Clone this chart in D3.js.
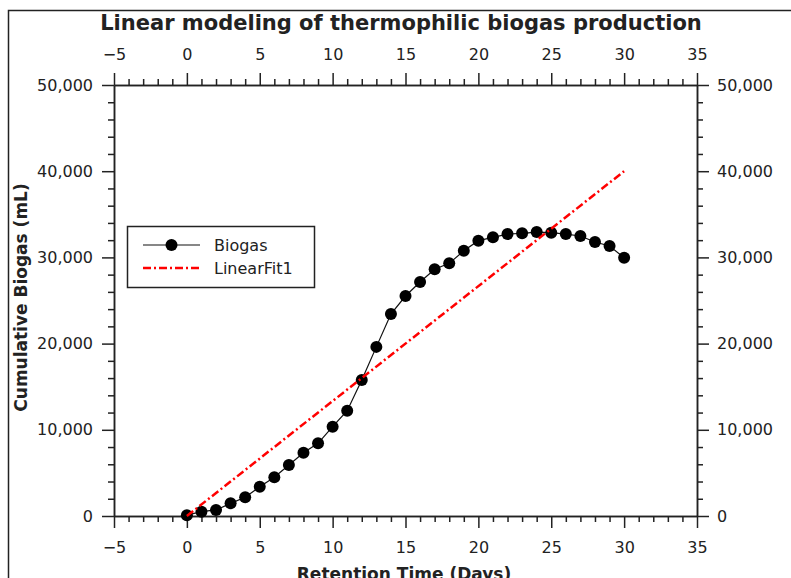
<!DOCTYPE html>
<html>
<head>
<meta charset="utf-8">
<script src="https://cdn.jsdelivr.net/npm/d3@7"></script>
<style>
  body { margin: 0; background: #fff; }
  text { font-family: "DejaVu Sans", sans-serif; fill: #222; }
</style>
</head>
<body>
<div id="chart"></div>
<script>
// data
const days = [0, 1, 2, 3, 4, 5, 6, 7, 8, 9, 10, 11, 12, 13, 14, 15,
              16, 17, 18, 19, 20, 21, 22, 23, 24, 25, 26, 27, 28, 29, 30];
const biogas = [100, 500, 700, 1470, 2170, 3400, 4490, 5920, 7340, 8430, 10360,
                12210, 15780, 19620, 23430, 25520, 27140, 28620, 29310, 30760, 31940,
                32330, 32710, 32790, 32940, 32870, 32710, 32480, 31780, 31320, 29960];
const fitDays = [0, 30];
const fitBiogas = [0, 40000];
const xTicks = [-5, 0, 5, 10, 15, 20, 25, 30, 35];
const yTicks = [0, 10000, 20000, 30000, 40000, 50000];

const width = 791, height = 578;
const plot = {left: 114, right: 697, top: 85, bottom: 516};

let svg = d3.select("#chart")
    .append("svg")
    .attr("width", width)
    .attr("height", height);

// outer frame (only left and top edges show)
svg.append("path")
    .attr("d", `M8.5,${height} V10.5 H${width}`)
    .attr("fill", "none")
    .attr("stroke", "#222")
    .attr("stroke-width", 1.5);

let x = d3.scaleLinear().domain([-5, 35]).range([plot.left, plot.right]);
let y = d3.scaleLinear().domain([0, 50000]).range([plot.bottom, plot.top]);

const xMinor = d3.range(-5, 36, 1).filter(v => v % 5 !== 0);
const yMinor = d3.range(0, 50001, 2000).filter(v => v % 10000 !== 0);

function styleAxis(g) {
    g.selectAll("path, line").attr("stroke", "#222").attr("stroke-width", 1.5);
    g.selectAll("text").style("font-size", "16px").attr("fill", "#222")
        .style("font-family", "DejaVu Sans, sans-serif");
}

// bottom
svg.append("g").attr("transform", `translate(0,${plot.bottom})`)
    .call(d3.axisBottom(x).tickValues(xMinor).tickSize(6).tickSizeOuter(0).tickFormat(""))
    .call(styleAxis);
svg.append("g").attr("transform", `translate(0,${plot.bottom})`)
    .call(d3.axisBottom(x).tickValues(xTicks).tickSize(12).tickSizeOuter(0).tickPadding(14))
    .call(styleAxis);

// top
svg.append("g").attr("transform", `translate(0,${plot.top})`)
    .call(d3.axisTop(x).tickValues(xMinor).tickSize(6).tickSizeOuter(0).tickFormat(""))
    .call(styleAxis);
svg.append("g").attr("transform", `translate(0,${plot.top})`)
    .call(d3.axisTop(x).tickValues(xTicks).tickSize(12).tickSizeOuter(0).tickPadding(13))
    .call(styleAxis);

// left
svg.append("g").attr("transform", `translate(${plot.left},0)`)
    .call(d3.axisLeft(y).tickValues(yMinor).tickSize(6).tickSizeOuter(0).tickFormat(""))
    .call(styleAxis);
svg.append("g").attr("transform", `translate(${plot.left},0)`)
    .call(d3.axisLeft(y).tickValues(yTicks).tickSize(12).tickSizeOuter(0).tickPadding(9)
        .tickFormat(d3.format(",")))
    .call(styleAxis);

// right
svg.append("g").attr("transform", `translate(${plot.right},0)`)
    .call(d3.axisRight(y).tickValues(yMinor).tickSize(6).tickSizeOuter(0).tickFormat(""))
    .call(styleAxis);
svg.append("g").attr("transform", `translate(${plot.right},0)`)
    .call(d3.axisRight(y).tickValues(yTicks).tickSize(12).tickSizeOuter(0).tickPadding(8)
        .tickFormat(d3.format(",")))
    .call(styleAxis);

// titles
svg.append("text")
    .attr("x", 401).attr("y", 30)
    .style("text-anchor", "middle")
    .style("font-size", "21px")
    .style("font-weight", "bold")
    .text("Linear modeling of thermophilic biogas production");

// x label is cut by the bottom edge, as in the reference
svg.append("text")
    .attr("x", 404).attr("y", 580)
    .style("text-anchor", "middle")
    .style("font-size", "17px")
    .style("font-weight", "bold")
    .text("Retention Time (Days)");

svg.append("text")
    .attr("transform", `translate(27, ${(plot.top + plot.bottom) / 2 - 3}) rotate(-90)`)
    .style("text-anchor", "middle")
    .style("font-size", "17px")
    .style("font-weight", "bold")
    .text("Cumulative Biogas (mL)");

// data line + markers
const pts = days.map((d, i) => ({day: d, val: biogas[i]}));
const line = d3.line().x(d => x(d.day)).y(d => y(d.val));

svg.append("path")
    .datum(pts)
    .attr("d", line)
    .attr("fill", "none")
    .attr("stroke", "#111")
    .attr("stroke-width", 1.2);

svg.append("g").selectAll("circle")
    .data(pts)
    .enter()
    .append("circle")
    .attr("cx", d => x(d.day))
    .attr("cy", d => y(d.val))
    .attr("r", 6)
    .attr("fill", "#000");

// linear fit
const fitPts = fitDays.map((d, i) => ({day: d, val: fitBiogas[i]}));
svg.append("path")
    .datum(fitPts)
    .attr("d", line)
    .attr("fill", "none")
    .attr("stroke", "#f00")
    .attr("stroke-width", 2.5)
    .attr("stroke-dasharray", "8,3,2,3");

// legend
let legend = svg.append("g");
legend.append("rect")
    .attr("x", 127.5).attr("y", 226.5)
    .attr("width", 187).attr("height", 61)
    .attr("fill", "#fff")
    .attr("stroke", "#222")
    .attr("stroke-width", 1.5);
legend.append("line")
    .attr("x1", 143).attr("x2", 200).attr("y1", 245).attr("y2", 245)
    .attr("stroke", "#111").attr("stroke-width", 1.2);
legend.append("circle")
    .attr("cx", 171.5).attr("cy", 245).attr("r", 6).attr("fill", "#000");
legend.append("line")
    .attr("x1", 143).attr("x2", 200).attr("y1", 268).attr("y2", 268)
    .attr("stroke", "#f00").attr("stroke-width", 2.5)
    .attr("stroke-dasharray", "8,3,2,3");
legend.append("text")
    .attr("x", 214).attr("y", 245).attr("dy", "0.35em")
    .style("font-size", "16px")
    .text("Biogas");
legend.append("text")
    .attr("x", 214).attr("y", 268).attr("dy", "0.35em")
    .style("font-size", "16px")
    .text("LinearFit1");
</script>
</body>
</html>
